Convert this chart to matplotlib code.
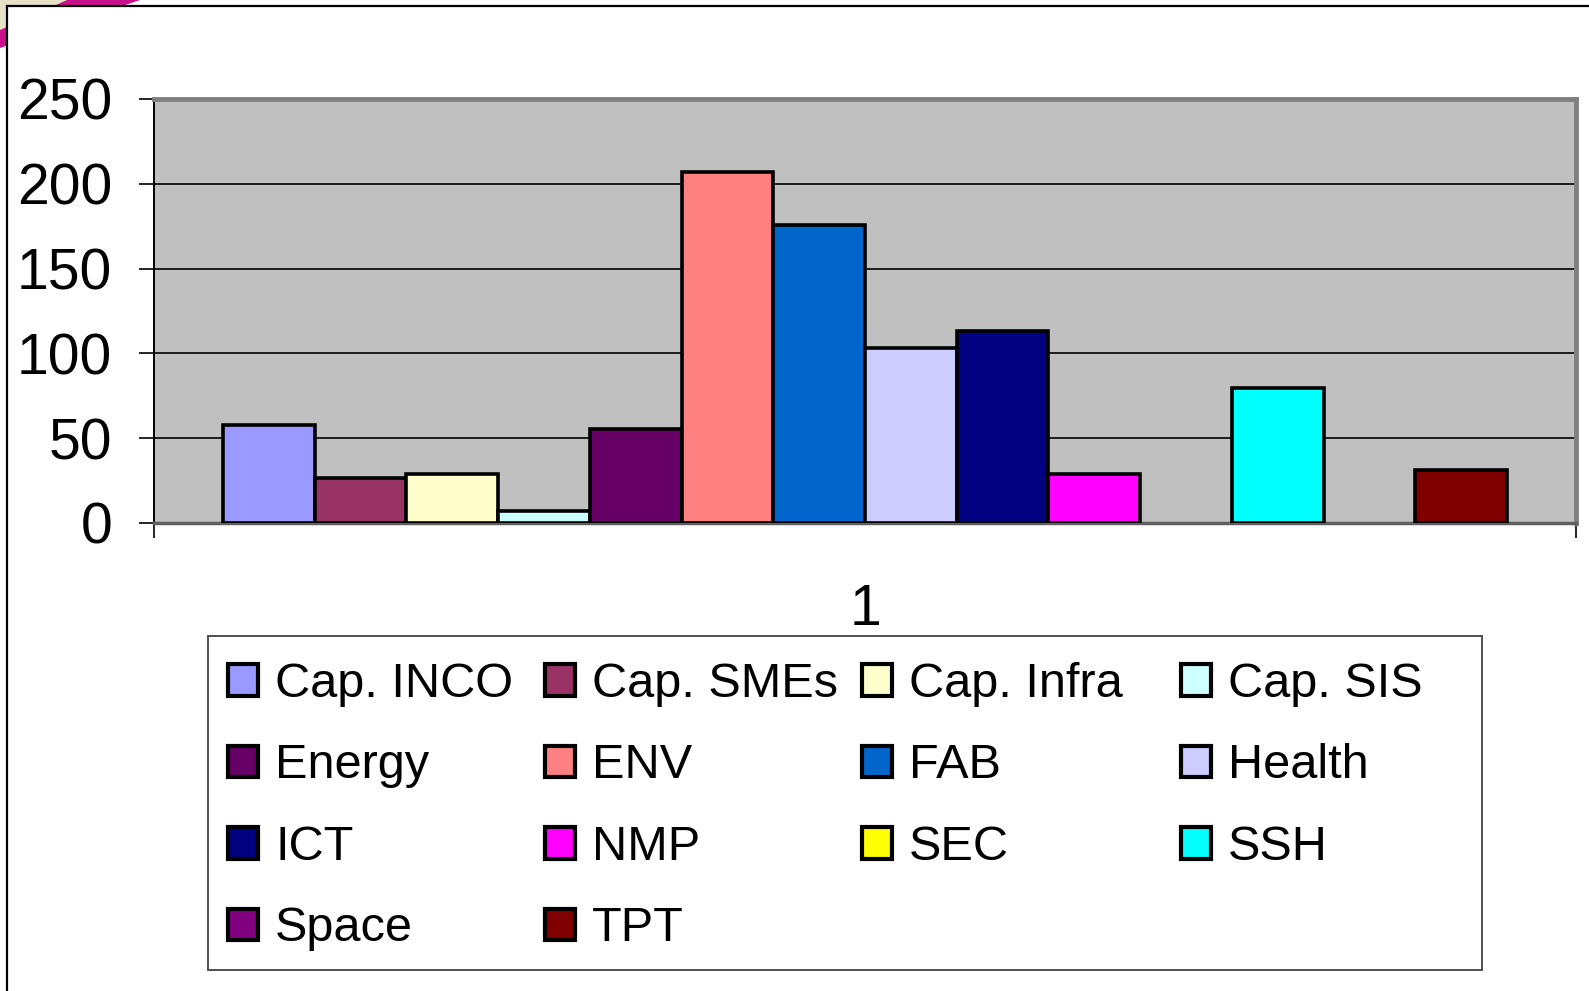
import matplotlib.pyplot as plt
from matplotlib.patches import Polygon, Rectangle
from matplotlib.lines import Line2D

plt.rcParams['font.family'] = ['Liberation Sans', 'DejaVu Sans']

series = ['Cap. INCO', 'Cap. SMEs', 'Cap. Infra', 'Cap. SIS', 'Energy', 'ENV', 'FAB',
          'Health', 'ICT', 'NMP', 'SEC', 'SSH', 'Space', 'TPT']
values = [57.5, 26.5, 29, 7, 55.5, 207, 176, 103, 113, 29, 0, 79.5, 0, 31]
colors = ['#9999FF', '#993366', '#FFFFCC', '#CCFFFF', '#660066', '#FF8080', '#0066CC',
          '#CCCCFF', '#000080', '#FF00FF', '#FFFF00', '#00FFFF', '#800080', '#800000']
category = ['1']
yticks = [0, 50, 100, 150, 200, 250]

fig = plt.figure(figsize=(15.89, 9.91), dpi=100)
W, H = 1589, 991

# slide decoration at top-left, outside the chart frame
fig.patches.append(Polygon([(0, 1), (67 / W, 1), (0, 1 - 30 / H)], closed=True, zorder=-10,
                           transform=fig.transFigure, facecolor='#E6E2C6', edgecolor='none'))
fig.patches.append(Polygon([(67 / W, 1), (140 / W, 1), (0, 1 - 48 / H), (0, 1 - 30 / H)], closed=True,
                           zorder=-10, transform=fig.transFigure, facecolor='#C8108C', edgecolor='none'))
fig.patches.append(Polygon([(7 / W, 1 - 6 / H), (1, 1 - 6 / H), (1, 0), (7 / W, 0)], closed=True,
                           zorder=-9, transform=fig.transFigure, facecolor='white', edgecolor='none'))
fig.lines.append(Line2D([7 / W, 7 / W], [0, 1 - 6 / H], transform=fig.transFigure,
                        color='black', lw=1.6, zorder=-8))
fig.lines.append(Line2D([7 / W, 1], [1 - 6 / H, 1 - 6 / H], transform=fig.transFigure,
                        color='black', lw=1.6, zorder=-8))

ax = fig.add_axes([154 / W, 1 - 523 / H, (1576 - 154) / W, (523 - 99) / H])
ax.set_facecolor('#C0C0C0')

n = len(series)
width = 1 / (n + 1.5)
start = -n * width / 2
bars = []
for i in range(n):
    x = start + (i + 0.5) * width
    b = ax.bar(x, values[i], width=width, color=colors[i], edgecolor='black',
               linewidth=2.6 if values[i] > 0 else 0, label=series[i], zorder=3)
    bars.append(b)

ax.set_xlim(-0.5, 0.5)
ax.set_ylim(0, 250)
ax.set_yticks(yticks)
ax.set_yticklabels([str(t) for t in yticks], fontsize=41)
ax.tick_params(axis='y', direction='out', length=11, width=1.2, pad=19)
ax.set_xticks([0])
ax.set_xticklabels(category, fontsize=41)
ax.tick_params(axis='x', which='major', length=0, pad=43)
ax.set_xticks([-0.5, 0.5], minor=True)
ax.tick_params(axis='x', which='minor', direction='out', length=11, width=1.2)
ax.yaxis.grid(True, color='black', linewidth=1.2, zorder=1)
ax.set_axisbelow(True)

ax.spines['left'].set_color('black')
ax.spines['left'].set_linewidth(1.4)
ax.spines['bottom'].set_color('#606060')
ax.spines['bottom'].set_linewidth(2.5)
ax.spines['top'].set_color('#808080')
ax.spines['top'].set_linewidth(3.5)
ax.spines['right'].set_color('#808080')
ax.spines['right'].set_linewidth(3.5)

# legend box with equal-width columns, filled row by row
fig.patches.append(Rectangle((208 / W, 1 - 970 / H), (1482 - 208) / W, (970 - 636) / H,
                             transform=fig.transFigure, facecolor='white', edgecolor='#505050',
                             lw=1.4, zorder=4))
ncol = 4
col_x = [228, 545, 862, 1181]
for c in range(ncol):
    idx = list(range(c, n, ncol))
    leg = fig.legend([bars[i] for i in idx], [series[i] for i in idx],
                     loc='upper left', bbox_to_anchor=(col_x[c] / W, 1 - 662 / H),
                     borderaxespad=0, borderpad=0, frameon=False, fontsize=35,
                     handlelength=0.62, handleheight=0.62, handletextpad=0.35,
                     labelspacing=0.75)
    leg.set_zorder(5)
    for h in leg.legend_handles:
        h.set_linewidth(3)
        h.set_edgecolor('black')

fig.savefig('out.png', dpi=100)
